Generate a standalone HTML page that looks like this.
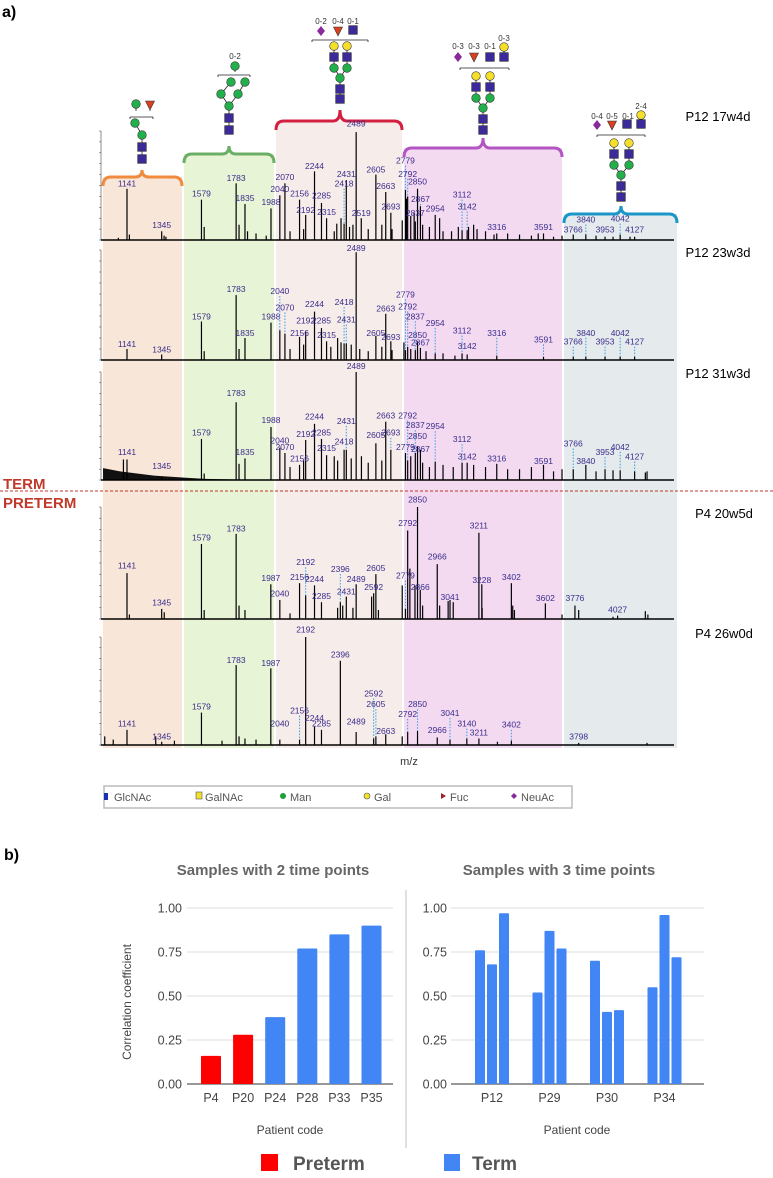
<!DOCTYPE html>
<html><head><meta charset="utf-8"><style>
html,body{margin:0;padding:0;background:#fff;}
svg{display:block;font-family:"Liberation Sans",sans-serif;}
</style></head><body>
<svg id="fig" width="773" height="1178" viewBox="0 0 773 1178">
<text x="2" y="17" font-size="16" font-weight="bold">a)</text>
<text x="4" y="860" font-size="16" font-weight="bold">b)</text>
<g id="bands"></g>
<g id="glycans"></g>
<g id="spectra"></g>
<line x1="0" y1="491" x2="773" y2="491" stroke="#c0392b" stroke-width="1" stroke-dasharray="3,2"/>
<text x="3" y="489" font-size="15" font-weight="bold" fill="#c0392b">TERM</text>
<text x="3" y="508" font-size="15" font-weight="bold" fill="#c0392b">PRETERM</text>
<text x="718" y="121" font-size="13" text-anchor="middle">P12 17w4d</text>
<text x="718" y="257" font-size="13" text-anchor="middle">P12 23w3d</text>
<text x="718" y="378" font-size="13" text-anchor="middle">P12 31w3d</text>
<text x="724" y="518" font-size="13" text-anchor="middle">P4 20w5d</text>
<text x="724" y="638" font-size="13" text-anchor="middle">P4 26w0d</text>
<text x="409" y="765" font-size="11" text-anchor="middle" fill="#333">m/z</text>
<g>
<rect x="104" y="786" width="468" height="22" fill="#fff" stroke="#bbb" stroke-width="1.5"/>
<rect x="104" y="793" width="4" height="7" fill="#1f2fb0"/>
<text x="114" y="801" font-size="11" fill="#555">GlcNAc</text>
<rect x="196" y="792" width="6" height="7" fill="#f2e030" stroke="#555" stroke-width="0.6"/>
<text x="205" y="801" font-size="11" fill="#555">GalNAc</text>
<circle cx="283" cy="796" r="3" fill="#1fa03a"/>
<text x="290" y="801" font-size="11" fill="#555">Man</text>
<circle cx="367" cy="796" r="3" fill="#f2e030" stroke="#555" stroke-width="0.6"/>
<text x="374" y="801" font-size="11" fill="#555">Gal</text>
<polygon points="441,793 446,796 441,799" fill="#a0202a"/>
<text x="450" y="801" font-size="11" fill="#555">Fuc</text>
<polygon points="514,793 517,796 514,799 511,796" fill="#8a2a9a"/>
<text x="521" y="801" font-size="11" fill="#555">NeuAc</text>
</g>
<g id="chartb"></g>
</svg>
<script>
// ---------- Spectra data ----------
const p1Peaks=[[1141,47],[1345,8],[1579,37],[1783,52],[1835,33],[1988,29],[2040,41],[2070,52],[2156,37],[2192,23],[2244,63],[2285,34],[2315,20],[2418,15],[2431,55],[2489,99],[2519,20],[2605,60],[2663,44],[2693,25],[2779,46],[2792,40],[2837,17],[2850,47],[2867,31],[2954,23],[3112,9],[3142,9],[3316,6],[3591,6],[3766,5],[3840,5],[3953,3],[4042,5],[4127,3],[1090,2],[1155,5],[1359,4],[1370,3],[1595,12],[1800,14],[1850,8],[1900,6],[1960,4],[2100,8],[2180,10],[2360,8],[2375,15],[2400,20],[2450,12],[2470,14],[2560,10],[2640,14],[2700,10],[2760,18],[2785,38],[2810,22],[2830,25],[2880,14],[2920,12],[2980,20],[3000,8],[3050,8],[3090,12],[3150,12],[3180,14],[3200,10],[3250,8],[3300,5],[3380,6],[3450,5],[3520,4],[3560,6],[3650,3],[3700,4],[3900,4],[4000,3],[4100,3]];
const p1Labels=[[1141,49,0],[1345,11,0],[1579,40,0],[1783,54,0],[1835,36,0],[1988,32,0],[2040,44,0],[2070,55,0],[2156,40,0],[2192,25,0],[2244,65,0],[2285,38,0],[2315,23,0],[2418,49,1],[2431,58,0],[2489,104,0],[2519,22,0],[2605,62,0],[2663,47,0],[2693,28,0],[2779,70,1],[2792,58,1],[2837,22,0],[2850,51,0],[2867,35,1],[2954,26,0],[3112,39,1],[3142,28,1],[3316,9,0],[3591,9,0],[3766,7,0],[3840,16,1],[3953,7,0],[4042,17,1],[4127,7,0]];
const p2Peaks=[[1141,10],[1345,5],[1579,35],[1783,59],[1835,20],[1988,34],[2040,27],[2070,24],[2156,21],[2192,26],[2244,44],[2285,29],[2315,17],[2418,15],[2431,15],[2489,98],[2605,22],[2663,42],[2693,17],[2779,9],[2792,12],[2837,9],[2850,17],[2867,11],[2954,6],[3112,6],[3142,5],[3316,4],[3591,3],[3766,3],[3840,3],[3953,3],[4042,3],[4127,3],[1595,8],[1800,10],[2100,10],[2180,14],[2340,12],[2380,20],[2400,16],[2460,14],[2510,10],[2560,8],[2640,12],[2700,9],[2770,16],[2810,10],[2900,8],[3000,6],[3070,4]];
const p2Labels=[[1141,12,0],[1345,7,0],[1579,37,0],[1783,62,0],[1835,22,0],[1988,37,0],[2040,60,1],[2070,45,1],[2156,22,0],[2192,33,0],[2244,48,0],[2285,33,0],[2315,20,0],[2418,50,1],[2431,34,1],[2489,99,0],[2605,22,0],[2663,44,0],[2693,18,0],[2779,57,1],[2792,46,1],[2837,37,1],[2850,20,0],[2867,13,0],[2954,31,1],[3112,24,1],[3142,10,0],[3316,22,1],[3591,16,1],[3766,14,1],[3840,22,1],[3953,14,1],[4042,22,1],[4127,14,1]];
const p3Peaks=[[1141,19],[1120,19],[1345,3],[1579,38],[1783,72],[1835,20],[1988,49],[2040,30],[2070,25],[2156,14],[2192,37],[2244,52],[2285,38],[2315,23],[2418,28],[2431,28],[2489,100],[2605,34],[2663,54],[2693,28],[2779,25],[2792,18],[2837,25],[2850,31],[2867,28],[2954,17],[3112,16],[3142,16],[3316,15],[3591,14],[3766,10],[3840,14],[3953,10],[4042,9],[4127,8],[1595,6],[1800,15],[2100,12],[2180,18],[2360,22],[2380,18],[2460,20],[2520,22],[2560,16],[2640,18],[2810,22],[2880,16],[2920,12],[3000,14],[3060,12],[3180,14],[3250,12],[3380,10],[3450,10],[3520,12],[3650,8],[3700,10],[3900,8],[4000,9],[4190,7],[4200,8]];
const p3Labels=[[1141,23,0],[1345,10,0],[1579,41,0],[1783,78,0],[1835,23,0],[1988,53,0],[2040,34,0],[2070,28,0],[2156,17,0],[2192,40,0],[2244,56,0],[2285,41,0],[2315,27,0],[2418,33,0],[2431,52,1],[2489,103,0],[2605,39,0],[2663,57,0],[2693,41,1],[2779,28,0],[2792,57,1],[2837,48,1],[2850,38,0],[2867,26,0],[2954,47,1],[3112,35,1],[3142,19,0],[3316,17,0],[3591,15,0],[3766,31,1],[3840,15,0],[3953,23,1],[4042,28,1],[4127,19,1]];
const p3Baseline=[[1000,11],[1100,8],[1200,6],[1300,4],[1400,3],[1500,2],[1600,1],[1800,0.5],[4250,0.5]];
const p4Peaks=[[1141,41],[1345,9],[1360,6],[1579,67],[1783,76],[1800,12],[1987,31],[2040,17],[2156,32],[2192,21],[2244,30],[2285,15],[2396,15],[2431,20],[2489,31],[2592,23],[2605,40],[2779,9],[2792,79],[2850,100],[2866,26],[2966,49],[3041,17],[3211,77],[3228,31],[3402,32],[3602,14],[3776,12],[4027,3],[1155,4],[1595,8],[1835,8],[2100,5],[2380,10],[2410,12],[2470,10],[2580,20],[2620,8],[2760,30],[2805,45],[2835,30],[2880,12],[2980,12],[3030,16],[3060,15],[3230,10],[3410,12],[3420,8],[3700,4],[3798,8],[4190,7],[4205,4],[4000,2]];
const p4Labels=[[1141,45,0],[1345,12,0],[1579,70,0],[1783,78,0],[1987,34,0],[2040,20,0],[2156,35,0],[2192,48,1],[2244,33,0],[2285,18,0],[2396,42,1],[2431,22,0],[2489,33,0],[2592,26,0],[2605,43,0],[2779,36,1],[2792,83,0],[2850,104,0],[2866,26,0],[2966,53,0],[3041,17,0],[3211,81,0],[3228,32,0],[3402,35,0],[3602,16,0],[3776,16,0],[4027,6,0]];
const p5Peaks=[[1010,8],[1060,5],[1141,14],[1310,8],[1345,3],[1420,4],[1579,30],[1700,4],[1783,74],[1800,8],[1835,6],[1900,5],[1987,71],[2040,5],[2156,5],[2192,100],[2244,17],[2285,14],[2396,78],[2489,12],[2592,6],[2605,8],[2663,10],[2760,8],[2792,12],[2850,13],[2966,7],[3041,5],[3140,6],[3211,6],[3402,4],[3798,2],[3320,3],[4200,2]];
const p5Labels=[[1141,17,0],[1345,5,0],[1579,33,0],[1783,76,0],[1987,73,0],[2040,17,0],[2156,29,1],[2192,104,0],[2244,22,0],[2285,17,0],[2396,81,0],[2489,19,0],[2592,45,1],[2605,35,1],[2663,10,0],[2792,26,1],[2850,35,1],[2966,11,0],[3041,27,1],[3140,17,1],[3211,9,0],[3402,16,1],[3798,5,0]];

// ---------- Bar chart data ----------
const twoCats=["P4","P20","P24","P28","P33","P35"];
const twoVals=[0.16,0.28,0.38,0.77,0.85,0.90];
const twoGroup=["Preterm","Preterm","Term","Term","Term","Term"];
const threeCats=["P12","P29","P30","P34"];
const threeVals1=[0.76,0.52,0.70,0.55];
const threeVals2=[0.68,0.87,0.41,0.96];
const threeVals3=[0.97,0.77,0.42,0.72];
const yTicks=[0,0.25,0.5,0.75,1.0];
const yTickLabels=["0.00","0.25","0.50","0.75","1.00"];

const NS="http://www.w3.org/2000/svg";
function mk(tag,attrs,parent){const e=document.createElementNS(NS,tag);for(const k in attrs)e.setAttribute(k,attrs[k]);parent.appendChild(e);return e;}
const xm=m=>127+(m-1141)*0.17;

const bandsG=document.getElementById('bands');
const bands=[["orange",103,182,142,170,177,"#f8e6d8","#f08a3c"],["green",184,274,229,146,154,"#e8f4d6","#6cae66"],["red",276,402,340,110,121,"#f6ecea","#d42040"],["magenta",404,562,483,138,148,"#f3daf1","#b355c2"],["blue",564,677,621,206,214,"#e5eaed","#1b96c9"]];
bands.forEach(b=>{
  const [nm,x1,x2,cx,yp,ya,fill,st]=b;
  const r=mk('rect',{x:x1,y:ya,width:x2-x1,height:748-ya,fill:fill},bandsG);
  
  
  const yb=ya+9;
  const p=mk('path',{d:`M${x1} ${yb} Q${x1} ${ya} ${x1+8} ${ya} L${cx-7} ${ya} Q${cx} ${ya} ${cx} ${yp} Q${cx} ${ya} ${cx+7} ${ya} L${x2-8} ${ya} Q${x2} ${ya} ${x2} ${yb}`,fill:'none',stroke:st,'stroke-width':3},bandsG);
  
  
});

const gG=document.getElementById('glycans');
const BL="#3a2a9a",GR="#22b04a",YE="#f5df2a",RD="#d94020",PU="#8a2a9a";
function ln(x1,y1,x2,y2){mk('line',{x1,y1,x2,y2,stroke:'#222','stroke-width':0.8},gG);}
function C(x,y,f){mk('circle',{cx:x,cy:y,r:4.3,fill:f,stroke:'#333','stroke-width':0.6},gG);}
function S(x,y){mk('rect',{x:x-4.3,y:y-4.3,width:8.6,height:8.6,fill:BL,stroke:'#222','stroke-width':0.6},gG);}
function T(x,y){mk('polygon',{points:`${x-4.5},${y-4} ${x+4.5},${y-4} ${x},${y+5}`,fill:RD,stroke:'#333','stroke-width':0.6},gG);}
function D(x,y){mk('polygon',{points:`${x},${y-5} ${x+4},${y} ${x},${y+5} ${x-4},${y}`,fill:PU},gG);}
function lab(x,y,t){mk('text',{x,y,'font-size':8,'text-anchor':'middle',fill:'#333'},gG).textContent=t;}
function br(x1,x2,y){ln(x1,y,x2,y);ln(x1,y,x1,y+2);ln(x2,y,x2,y+2);}
ln(136,104,136,111);ln(150,105,150,111);C(136,104,GR);T(150,105);br(130,153,117);
ln(135,123,142,135);ln(142,135,142,159);C(135,123,GR);C(142,135,GR);S(142,147);S(142,159);
lab(235,59,"0-2");ln(235,64,235,72);C(235,66,GR);br(218,250,75);
ln(221,94,229,106);ln(238,94,229,106);ln(231,82,221,94);ln(245,82,238,94);ln(229,106,229,130);
C(231,82,GR);C(245,82,GR);C(221,94,GR);C(238,94,GR);C(229,106,GR);S(229,118);S(229,130);
lab(321,24,"0-2");lab(338,24,"0-4");lab(353,24,"0-1");D(321,31);T(338,31);S(353,30);br(312,368,40);
ln(334,46,334,67);ln(347,46,347,67);ln(334,67,340,78);ln(347,67,340,78);ln(340,78,340,99);
C(334,46,YE);C(347,46,YE);S(334,57);S(347,57);C(334,68,GR);C(347,68,GR);C(340,78,GR);S(340,89);S(340,99);
lab(458,49,"0-3");lab(474,49,"0-3");lab(490,49,"0-1");lab(504,41,"0-3");D(458,57);T(474,57);S(490,57);ln(504,47,504,57);C(504,47,YE);S(504,57);br(460,509,68);
ln(476,76,476,98);ln(490,76,490,98);ln(476,98,483,108);ln(490,98,483,108);ln(483,108,483,130);
C(476,76,YE);C(490,76,YE);S(476,87);S(490,87);C(476,98,GR);C(490,98,GR);C(483,108,GR);S(483,119);S(483,130);
lab(597,119,"0-4");lab(612,119,"0-5");lab(628,119,"0-1");lab(641,109,"2-4");D(597,125);T(612,125);S(627,124);ln(641,115,641,124);C(641,115,YE);S(641,124);br(597,645,135);
ln(614,143,614,165);ln(629,143,629,165);ln(614,165,621,175);ln(629,165,621,175);ln(621,175,621,197);
C(614,143,YE);C(629,143,YE);S(614,154);S(629,154);C(614,165,GR);C(629,165,GR);C(621,175,GR);S(621,186);S(621,197);

const spG=document.getElementById('spectra');
const panels=[["p12-17w4d",131,240,p1Peaks,p1Labels,null],["p12-23w3d",250,360,p2Peaks,p2Labels,null],["p12-31w3d",372,480,p3Peaks,p3Labels,p3Baseline],["p4-20w5d",507,619,p4Peaks,p4Labels,null],["p4-26w0d",637,745,p5Peaks,p5Labels,null]];
panels.forEach(pn=>{
  const [nm,top,base,peaks,labels,bl]=pn;
  const h=base-top;
  const yv=v=>base-v/100*h;
  const g=mk('g',{},spG);
  
  
  mk('line',{x1:101,y1:top,x2:101,y2:base,stroke:'#444','stroke-width':0.6},g);
  for(let i=0;i<=10;i++){mk('line',{x1:99,y1:yv(i*10),x2:101,y2:yv(i*10),stroke:'#444','stroke-width':0.5},g);}
  if(bl){
    let d=`M${xm(bl[0][0])} ${base}`;
    bl.forEach(p=>{d+=` L${xm(p[0])} ${yv(p[1])}`;});
    d+=` L${xm(bl[bl.length-1][0])} ${base} Z`;
    const hp=mk('path',{d:d,fill:'#111'},g);
    
    
  }
  peaks.forEach(p=>{
    const l=mk('line',{x1:xm(p[0]),y1:base,x2:xm(p[0]),y2:yv(p[1]),stroke:'#000','stroke-width':1.2},g);
    
    
  });
  mk('line',{x1:101,y1:base,x2:674,y2:base,stroke:'#000','stroke-width':1.4},g);
  labels.forEach(lb=>{
    const x=xm(lb[0]);const ly=yv(lb[1]);
    if(lb[2]){
      const pk=peaks.find(p=>p[0]===lb[0]);
      const py=pk?yv(pk[1]):base;
      const dl=mk('line',{x1:x,y1:ly+2,x2:x,y2:py,stroke:'#3a9ee0','stroke-width':1,'stroke-dasharray':'1.5,1.5'},g);
      
      
    }
    const t=mk('text',{x:x,y:ly,'font-size':8.5,'text-anchor':'middle',fill:'#3b2c8c'},g);
    t.textContent=String(lb[0]);
    
    
  });
});

const cb=document.getElementById('chartb');
const Y0=1084,Y1=908;
const yb=v=>Y0-v*(Y0-Y1);
function txt(x,y,s,attrs,name){const t=mk('text',Object.assign({x,y},attrs),cb);t.textContent=s;return t;}
txt(273,875,"Samples with 2 time points",{'font-size':15,'font-weight':'bold',fill:'#666','text-anchor':'middle'},'chart-title-2-time-points');
txt(559,875,"Samples with 3 time points",{'font-size':15,'font-weight':'bold',fill:'#666','text-anchor':'middle'},'chart-title-3-time-points');
const dv=mk('line',{x1:406,y1:890,x2:406,y2:1148,stroke:'#ccc','stroke-width':1.2},cb);


yTicks.forEach((v,i)=>{
  const g1=mk('line',{x1:187,y1:yb(v),x2:393,y2:yb(v),stroke:i===0?'#777':'#ddd','stroke-width':i===0?1.4:1},cb);
  
  
  const g2=mk('line',{x1:451,y1:yb(v),x2:704,y2:yb(v),stroke:i===0?'#777':'#ddd','stroke-width':i===0?1.4:1},cb);
  
  
  txt(182,yb(v)+4.5,yTickLabels[i],{'font-size':12.5,fill:'#444','text-anchor':'end'},'y-tick-left');
  txt(447,yb(v)+4.5,yTickLabels[i],{'font-size':12.5,fill:'#444','text-anchor':'end'},'y-tick-right');
});
txt(0,0,"Correlation coefficient",{'font-size':12,fill:'#444','text-anchor':'middle',transform:'translate(131,1002) rotate(-90)'},'y-axis-title');
twoCats.forEach((c,i)=>{
  const cx=211+i*32.1;
  const r=mk('rect',{x:cx-10,y:yb(twoVals[i]),width:20,height:Y0-yb(twoVals[i]),fill:twoGroup[i]==="Preterm"?'#ff0000':'#4285f4',rx:1},cb);
  
  
  txt(cx,1102,c,{'font-size':12.5,fill:'#444','text-anchor':'middle'},'x-tick-'+c.toLowerCase());
});
const sets=[threeVals1,threeVals2,threeVals3];
threeCats.forEach((c,i)=>{
  const gc=492+i*57.5;
  sets.forEach((vals,j)=>{
    const x=gc-17+j*12;
    const r=mk('rect',{x:x,y:yb(vals[i]),width:10,height:Y0-yb(vals[i]),fill:'#4285f4',rx:1},cb);
    
    
  });
  txt(gc,1102,c,{'font-size':12.5,fill:'#444','text-anchor':'middle'},'x-tick-'+c.toLowerCase());
});
txt(290,1134,"Patient code",{'font-size':12,fill:'#444','text-anchor':'middle'},'x-axis-title-left');
txt(577,1134,"Patient code",{'font-size':12,fill:'#444','text-anchor':'middle'},'x-axis-title-right');
const lr=mk('rect',{x:261,y:1154,width:17,height:17,fill:'#ff0000'},cb);


txt(293,1170,"Preterm",{'font-size':19,'font-weight':'bold',fill:'#555'},'legend-label-preterm');
const lt=mk('rect',{x:444,y:1154,width:16,height:17,fill:'#4285f4'},cb);


txt(472,1170,"Term",{'font-size':19,'font-weight':'bold',fill:'#555'},'legend-label-term');
</script>
</body></html>
